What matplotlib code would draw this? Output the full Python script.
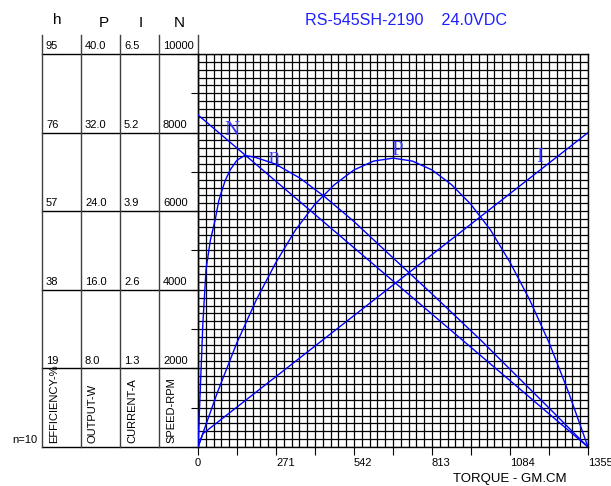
import matplotlib
matplotlib.use("Agg")
import matplotlib.pyplot as plt
import matplotlib.transforms as mtransforms
import numpy as np

plt.rcParams["font.family"] = ["Liberation Sans", "DejaVu Sans"]

# motor curve data (torque in gm.cm)
torque_spd = [0, 1355]
speed_rpm = [8450, 0]

torque_cur = [0, 17, 1355]
current_a = [0, 0.22, 5.2]

torque_eff = [0, 4, 8, 17, 28, 43, 60, 72, 83, 95, 112, 135, 163, 200, 269,
              354, 440, 542, 650, 813, 980, 1084, 1220, 1300, 1355]
efficiency = [0, 7, 14, 30, 43, 50, 55, 59.5, 62, 64.5, 67, 69.3, 70.5, 70.0,
              68.4, 65.0, 60.5, 54.5, 47.5, 37.0, 26.0, 18.8, 9.4, 3.8, 0]

torque_out = [0, 68, 135, 203, 271, 339, 406, 474, 542, 610, 678, 745, 813,
              881, 948, 1016, 1084, 1152, 1220, 1287, 1355]
output_w = [0, 5.6, 10.6, 15.0, 18.8, 22.1, 24.7, 26.7, 28.2, 29.1, 29.4,
            29.1, 28.2, 26.7, 24.7, 22.1, 18.8, 15.0, 10.6, 5.6, 0]

# scale table
eff_rows = ["95", "76", "57", "38", "19"]
out_rows = ["40.0", "32.0", "24.0", "16.0", "8.0"]
cur_rows = ["6.5", "5.2", "3.9", "2.6", "1.3"]
spd_rows = ["10000", "8000", "6000", "4000", "2000"]
row_vals = [10000, 8000, 6000, 4000, 2000]
x_ticks = [0, 271, 542, 813, 1084, 1355]

blue = "#0000ff"
W, H = 611, 486

fig = plt.figure(figsize=(W / 100, H / 100), dpi=100)
ax = fig.add_axes([198 / W, 39 / H, 390 / W, 393 / H])
ax.set_xlim(0, 1355)
ax.set_ylim(0, 10000)

# 50 x 50 grid
for v in np.linspace(0, 1355, 51):
    ax.axvline(v, color="k", lw=0.9, zorder=1)
for v in np.linspace(0, 10000, 51):
    ax.axhline(v, color="k", lw=0.9, zorder=1)
for s in ax.spines.values():
    s.set_linewidth(1.0)

ax.set_xticks(x_ticks)
ax.set_xticklabels([str(t) for t in x_ticks], fontsize=8)
for lab in ax.get_xticklabels():
    lab.set_horizontalalignment("left")
ax.get_xticklabels()[0].set_horizontalalignment("center")
ax.set_xticks(np.arange(0, 1356, 135.5), minor=True)
ax.tick_params(axis="x", which="both", direction="out", length=6, width=0.8, pad=2)
ax.set_yticks(np.arange(0, 10001, 1000))
ax.set_yticklabels([])
ax.tick_params(axis="y", direction="out", length=5, width=0.8)

# curves on their own scales
ax.plot(torque_spd, speed_rpm, color=blue, lw=1.0, zorder=3)
ax_i = ax.twinx()
ax_i.set_ylim(0, 6.5)
ax_i.axis("off")
ax_i.plot(torque_cur, current_a, color=blue, lw=1.0)
ax_e = ax.twinx()
ax_e.set_ylim(0, 95)
ax_e.axis("off")
ax_e.plot(torque_eff, efficiency, color=blue, lw=1.0)
ax_p = ax.twinx()
ax_p.set_ylim(0, 40)
ax_p.axis("off")
ax_p.plot(torque_out, output_w, color=blue, lw=1.0)

lab_kw = dict(family=["Liberation Serif", "DejaVu Serif"], fontsize=15,
              color="#3a3aff", ha="center", va="center")
ax.text(118, 8066, "N", **lab_kw)
ax.text(264, 7379, "\u03b7", **lab_kw)
ax.text(691, 7557, "P", **lab_kw)
ax.text(1188, 7354, "I", **lab_kw)

# scale table on the left
trans = mtransforms.blended_transform_factory(ax.transAxes, ax.transData)
cols = [-0.4, -0.3, -0.2, -0.1]
for v in row_vals + [0]:
    ax.plot([-0.4, 0], [v, v], transform=trans, color="k", lw=1.0, clip_on=False)
for c in cols + [0]:
    ax.plot([c, c], [0, 1.048], transform=ax.transAxes, color="#404040",
            lw=1.0, clip_on=False)

for c, rows in zip(cols, [eff_rows, out_rows, cur_rows, spd_rows]):
    for v, s in zip(row_vals, rows):
        ax.text(c + 4 / 390, v + 70, s, transform=trans, fontsize=8,
                ha="left", va="bottom")

for c, s in zip(cols, ["EFFICIENCY-%", "OUTPUT-W", "CURRENT-A", "SPEED-RPM"]):
    ax.text(c + 12 / 390, 100, s, transform=trans, fontsize=8, rotation=90,
            ha="center", va="bottom")

ax.text(-0.362, 1.0763, "h", transform=ax.transAxes, fontsize=11,
        ha="center", va="baseline")
for x, s in zip([-0.241, -0.146, -0.047], ["P", "I", "N"]):
    ax.text(x, 1.0687, s, transform=ax.transAxes, fontsize=11,
            ha="center", va="baseline")

ax.text(-0.477, 0.004, "n=10", transform=ax.transAxes, fontsize=8,
        ha="left", va="bottom")

fig.text(305 / W, 1 - 20.5 / H, "RS-545SH-2190    24.0VDC", color="#1f1fff",
         fontsize=11.6, ha="left", va="center")
fig.text(510 / W, 1 - 479 / H, "TORQUE - GM.CM", fontsize=9.5,
         ha="center", va="center")

fig.savefig("out.png", dpi=100)
